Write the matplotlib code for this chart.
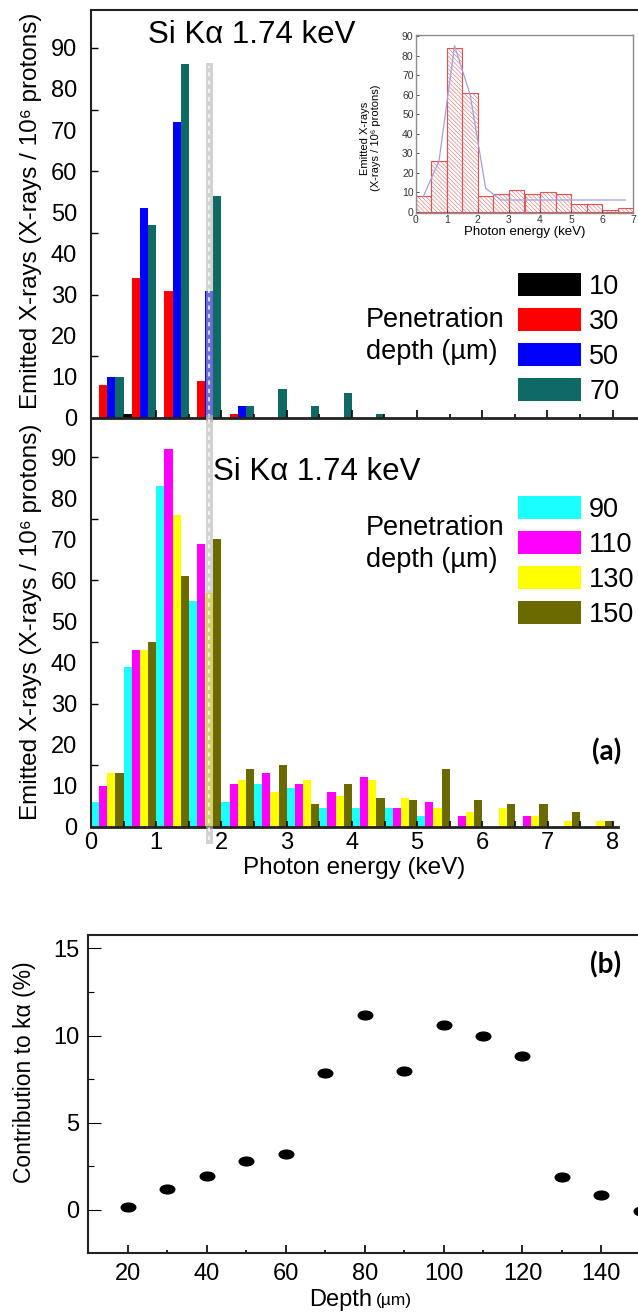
import matplotlib
matplotlib.use('Agg')
import numpy as np
import matplotlib.pyplot as plt
from matplotlib.patches import Patch
from matplotlib.path import Path
from matplotlib.transforms import Affine2D

plt.rcParams['font.family'] = ['Liberation Sans', 'DejaVu Sans']
plt.rcParams['hatch.linewidth'] = 0.35

# ---- data ----
bin_left = np.arange(0, 8, 0.5)          # 0.5 keV bins, 4 bars in each
bar_w = 0.125

top_labels = ['10', '30', '50', '70']
top_colors = ['#000000', '#ff0000', '#0000ff', '#0f6a66']
top_d10 = [0, 1, 0, 0, 0, 0, 0, 0, 0, 0, 0, 0, 0, 0, 0, 0]
top_d30 = [8, 34, 31, 9, 1, 0, 0, 0, 0, 0, 0, 0, 0, 0, 0, 0]
top_d50 = [10, 51, 72, 31, 3, 0, 0, 0, 0, 0, 0, 0, 0, 0, 0, 0]
top_d70 = [10, 47, 86, 54, 3, 7, 3, 6, 1, 0, 0, 0, 0, 0, 0, 0]

bot_labels = ['90', '110', '130', '150']
bot_colors = ['#1affff', '#ff00ff', '#ffff00', '#6b6a00']
bot_d90 = [6, 39, 83, 55, 6, 10.5, 9.5, 4.5, 4.5, 4.5, 2.5, 0, 0, 0, 0, 0]
bot_d110 = [10, 43, 92, 69, 10.5, 13, 10.5, 8.5, 12, 4.5, 6, 2.5, 0, 2.5, 0, 0]
bot_d130 = [13, 43, 76, 57, 11.5, 8.5, 11.5, 7.5, 11.5, 7, 4.5, 3.5, 4.5, 2.5, 1.5, 1.5]
bot_d150 = [13, 45, 61, 70, 14, 15, 5.5, 10.5, 7, 6.5, 14, 6.5, 5.5, 5.5, 3.5, 1.5]

# inset: total emission spectrum
ins_left = np.arange(0, 7, 0.5)
ins_vals = [8, 26, 84, 61, 8, 9, 11, 9, 10, 9, 4, 4, 1, 2]
ins_fit_x = [0.25, 0.75, 1.25, 1.75, 2.25, 2.75, 3.25, 3.75, 4.25, 4.75, 5.25, 5.75, 6.25, 6.75]
ins_fit_y = [8, 26, 85, 60, 12, 6, 6, 6, 6, 6, 6, 6, 6, 6]

si_ka_x = 1.8125   # marker line drawn over the Si K-alpha bin

depth = [20, 30, 40, 50, 60, 70, 80, 90, 100, 110, 120, 130, 140, 150]
contrib = [0.17, 1.17, 1.92, 2.78, 3.2, 7.85, 11.18, 7.98, 10.58, 10.0, 8.85, 1.9, 0.86, -0.05]

# ---- figure ----
W, H = 638, 1316
fig = plt.figure(figsize=(W / 100, H / 100), dpi=100)


def box(l, t, r, b):
    return [l / W, 1 - b / H, (r - l) / W, (b - t) / H]


def fpos(x, y):
    return x / W, 1 - y / H


def draw_bars(ax, series, colors):
    for i, (vals, c) in enumerate(zip(series, colors)):
        ax.bar(bin_left + (i + 0.5) * bar_w, vals, width=bar_w, color=c, linewidth=0)


def style_spec_axes(ax):
    ax.patch.set_visible(False)
    ax.set_yticks(range(0, 91, 10))
    ax.set_yticks(range(0, 91, 15), minor=True)
    ax.yaxis.remove_overlapping_locs = False
    ax.tick_params(axis='y', which='major', length=0, labelsize=17, pad=10)
    ax.tick_params(axis='y', which='minor', length=5, width=1, direction='in')
    ax.spines['right'].set_visible(False)
    for s in ax.spines.values():
        s.set_linewidth(1.5)
        s.set_color('#222222')


def si_line(ax, ymin, ymax):
    ax.axvline(si_ka_x, ymin=ymin, ymax=ymax, color='#b5b5b5', lw=5, alpha=0.6,
               clip_on=False, zorder=5)
    ax.axvline(si_ka_x, ymin=ymin, ymax=ymax, color='white', lw=1.5, alpha=0.7,
               dashes=(2, 2), clip_on=False, zorder=6)


# top bars
ax1 = fig.add_axes(box(91, 10, 638.7, 418))
draw_bars(ax1, [top_d10, top_d30, top_d50, top_d70], top_colors)
ax1.set_xlim(0, 8.4)
ax1.set_ylim(0, 99.2)
style_spec_axes(ax1)
ax1.set_xticks(np.arange(0, 8.5, 1))
ax1.set_xticks(np.arange(0.5, 8.5, 1), minor=True)
ax1.tick_params(axis='x', which='major', direction='in', length=6, width=1.2, labelbottom=False)
ax1.tick_params(axis='x', which='minor', direction='in', length=3, width=1.2)
ax1.spines['bottom'].set_linewidth(2)
si_line(ax1, 0, 85.5 / 99.2)

# bottom bars
ax2 = fig.add_axes(box(91, 418, 618, 826.7))
draw_bars(ax2, [bot_d90, bot_d110, bot_d130, bot_d150], bot_colors)
ax2.set_xlim(0, 8.08)
ax2.set_ylim(0, 99.6)
style_spec_axes(ax2)
ax2.spines['top'].set_visible(False)
ax2.set_xticks(range(0, 9))
ax2.set_xticks(np.arange(0.5, 8, 1), minor=True)
ax2.tick_params(axis='x', which='both', direction='in', length=4, width=1.2,
                labelsize=17, pad=4)
ax2.spines['bottom'].set_linewidth(2)
ax2.set_xlabel('Photon energy (keV)', fontsize=17.5, labelpad=2)
si_line(ax2, -0.033, 1)

# inset
axin = fig.add_axes(box(415.7, 35, 633.3, 212.7))
axin.bar(ins_left, ins_vals, width=0.5, align='edge', facecolor='white',
         edgecolor='#e8504f', linewidth=0.8, hatch='\\\\\\\\\\\\\\\\')
axin.plot(ins_fit_x, ins_fit_y, color='#a0a0e0', lw=0.9)
axin.set_xlim(0, 7)
axin.set_ylim(-0.5, 90.5)
axin.set_xticks(range(0, 8))
axin.set_yticks(range(0, 91, 10))
axin.tick_params(direction='in', length=2.5, width=0.6, labelsize=7.5, pad=1.5, colors='#333333')
for s in axin.spines.values():
    s.set_color('#8c8c8c')
    s.set_linewidth(1)
axin.set_xlabel('Photon energy (keV)', fontsize=9.5, labelpad=1)
axin.set_ylabel('Emitted X-rays\n(X-rays / 10\u2076 protons)', fontsize=8, linespacing=1.15)
axin.yaxis.set_label_coords(-0.16, 0.42)

# legends
def bar_legend(ax, labels, colors, top):
    handles = [Patch(facecolor=c, edgecolor='none') for c in colors]
    ax.legend(handles, labels, loc='upper left', bbox_to_anchor=fpos(518, top),
              bbox_transform=fig.transFigure, frameon=False, borderpad=0, borderaxespad=0,
              fontsize=19.5, handlelength=63 / 27, handleheight=25 / 27,
              handletextpad=8 / 27, labelspacing=0.3)


bar_legend(ax1, top_labels, top_colors, 273)
bar_legend(ax2, bot_labels, bot_colors, 496)

pen = 'Penetration\ndepth (\u00b5m)'
fig.text(*fpos(366, 336), pen, fontsize=19.5, ha='left', va='center', linespacing=1.3)
fig.text(*fpos(366, 544), pen, fontsize=19.5, ha='left', va='center', linespacing=1.3)

fig.text(*fpos(148, 35), 'Si K\u03b1 1.74 keV', fontsize=22.5, ha='left', va='center')
fig.text(*fpos(213, 472), 'Si K\u03b1 1.74 keV', fontsize=22.5, ha='left', va='center')

ylab = 'Emitted X-rays (X-rays / 10\u2076 protons)'
for yc in (211, 622):
    fig.text(*fpos(31, yc), ylab, rotation=90, fontsize=17.5, ha='center', va='center')

fig.text(*fpos(607, 752), '(a)', fontsize=20, fontweight='bold', ha='center', va='center',
         family=['Lato', 'DejaVu Sans'])

# panel (b)
ell = Path.unit_circle().transformed(Affine2D().scale(1.0, 0.6))
ax3 = fig.add_axes(box(88, 935, 685, 1253.3))
ax3.plot(depth, contrib, linestyle='none', marker=ell, ms=10.5, color='black')
ax3.set_xlim(9.86, 161.2)
ax3.set_ylim(-2.5, 15.77)
ax3.set_xticks(range(20, 141, 20))
ax3.set_xticks(range(30, 151, 20), minor=True)
ax3.set_yticks([0, 5, 10, 15])
ax3.set_yticks([2.5, 7.5, 12.5], minor=True)
ax3.tick_params(axis='x', which='major', direction='in', length=6, width=1.2, labelsize=17, pad=7)
ax3.tick_params(axis='x', which='minor', direction='in', length=2.5, width=1.2)
ax3.tick_params(axis='y', which='major', direction='in', length=9, width=0.8, labelsize=17, pad=6)
ax3.tick_params(axis='y', which='minor', direction='in', length=4.5, width=0.8)
ax3.spines['right'].set_visible(False)
for s in ax3.spines.values():
    s.set_linewidth(1.5)
    s.set_color('#222222')

fig.text(*fpos(25, 1072), 'Contribution to k\u03b1 (%)', rotation=90, fontsize=16.5,
         ha='center', va='center')
fig.text(*fpos(372, 1300), 'Depth', fontsize=17, ha='right', va='center')
fig.text(*fpos(376, 1301), '(\u00b5m)', fontsize=12.5, ha='left', va='center')
fig.text(*fpos(606, 965), '(b)', fontsize=20, fontweight='bold', ha='center', va='center',
         family=['Lato', 'DejaVu Sans'])

fig.savefig('out.png', dpi=100)
